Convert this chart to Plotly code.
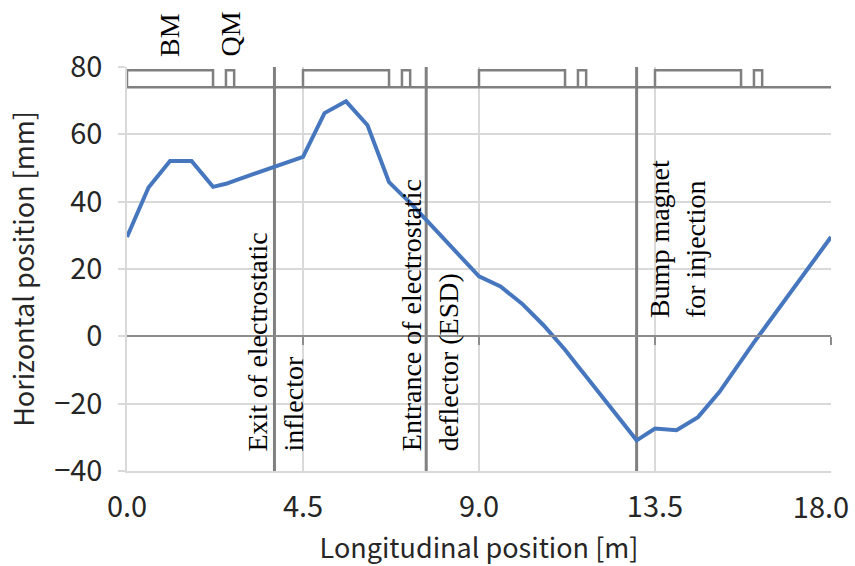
import plotly.graph_objects as go

# Horizontal beam position along one turn (4 identical sectors of 4.5 m)
s_m = [0.0, 0.55, 1.1, 1.65, 2.2, 2.53, 2.74, 3.77, 4.5,
       5.05, 5.6, 6.15, 6.7, 7.03, 7.24, 7.65, 9.0,
       9.55, 10.1, 10.65, 11.2, 11.53, 11.74, 13.03, 13.5,
       14.05, 14.6, 15.15, 15.7, 16.03, 16.24, 18.0]
x_mm = [29.5, 44.2, 52.1, 52.1, 44.4, 45.3, 46.2, 50.4, 53.3,
        66.3, 69.8, 62.7, 45.8, 42.0, 39.7, 34.6, 17.8,
        14.8, 9.7, 3.3, -4.0, -8.9, -11.9, -30.9, -27.4,
        -27.9, -24.0, -16.5, -7.1, -1.8, 1.5, 29.5]

# Lattice elements: bending magnets (BM) and quadrupoles (QM)
bm_start = [0.0, 4.5, 9.0, 13.5]
bm_length = 2.2
qm_start = [2.53, 7.03, 11.53, 16.03]
qm_length = 0.21
lattice_base = 74
lattice_top = 79

# Injection / extraction devices
device_pos = [3.77, 7.65, 13.03]
device_labels = ["Exit of electrostatic<br>inflector",
                 "Entrance of electrostatic<br>deflector (ESD)",
                 "Bump magnet<br>for injection"]

x_ticks = [0.0, 4.5, 9.0, 13.5, 18.0]
x_ticktext = ["0.0", "4.5", "9.0", "13.5", "18.0"]
y_ticks = [-40, -20, 0, 20, 40, 60, 80]

GRID = "#d9d9d9"
DARK = "#808080"
SANS = "Noto Sans CJK JP"
SERIF = "Liberation Serif"
TEXT = "#262626"
TICKFONT = dict(family=SANS, size=29, color=TEXT)

fig = go.Figure()

# lattice outline: baseline plus one closed box per magnet
lx, ly = [0.0, 18.0, None], [lattice_base, lattice_base, None]
for starts, length in ((bm_start, bm_length), (qm_start, qm_length)):
    for s0 in starts:
        s1 = s0 + length
        lx += [s0, s0, s1, s1, None]
        ly += [lattice_base, lattice_top, lattice_top, lattice_base, None]
fig.add_trace(go.Scatter(x=lx, y=ly, mode="lines",
                         line=dict(color=DARK, width=2.5),
                         hoverinfo="skip", showlegend=False, cliponaxis=False))

# device positions
for p in device_pos:
    fig.add_trace(go.Scatter(x=[p, p], y=[-40, 80], mode="lines",
                             line=dict(color=DARK, width=3),
                             hoverinfo="skip", showlegend=False))

# beam orbit
fig.add_trace(go.Scatter(x=s_m, y=x_mm, mode="lines",
                         line=dict(color="#4677BE", width=4),
                         showlegend=False))

# x axis line crossing at y = 0 (ticks only, labels stay at the bottom)
fig.add_trace(go.Scatter(x=[0, 18], y=[0, 0], xaxis="x2", mode="lines",
                         line=dict(color="rgba(0,0,0,0)"),
                         hoverinfo="skip", showlegend=False))
# helper axis carrying the last tick label, nudged inside the page
fig.add_trace(go.Scatter(x=[0, 18], y=[0, 0], xaxis="x3", mode="lines",
                         line=dict(color="rgba(0,0,0,0)"),
                         hoverinfo="skip", showlegend=False))

annotations = []
ann_x = [3.80, 7.74, 14.06]
ann_y = [-34.8, -34.8, 4.8]
for xa, ya, txt in zip(ann_x, ann_y, device_labels):
    annotations.append(dict(x=xa, y=ya, xref="x", yref="y", text=txt,
                            textangle=-90, align="left", showarrow=False,
                            xanchor="center", yanchor="bottom",
                            font=dict(family=SERIF, size=28, color="black")))
for name, s0, length in (("BM", bm_start[0], bm_length), ("QM", qm_start[0], qm_length)):
    annotations.append(dict(x=s0 + length / 2, y=1.02, xref="x", yref="paper",
                            text=name, textangle=-90, showarrow=False,
                            xanchor="center", yanchor="bottom",
                            font=dict(family=SERIF, size=28, color="black")))

fig.update_layout(
    template="none",
    width=855, height=566,
    margin=dict(l=127, r=24, t=67, b=95, autoexpand=False),
    paper_bgcolor="white", plot_bgcolor="white",
    font=dict(family=SANS, size=29, color=TEXT),
    annotations=annotations,
    xaxis=dict(range=[0, 18], tickvals=x_ticks[:-1], ticktext=x_ticktext[:-1],
               automargin=False,
               showgrid=True, gridcolor=GRID, gridwidth=1.5,
               showline=True, linecolor=GRID, linewidth=1.5, mirror=False,
               zeroline=False, ticks="", ticklabelstandoff=9,
               tickfont=TICKFONT,
               title=dict(text="Longitudinal position [m]", standoff=18,
                          font=dict(family=SANS, size=27, color=TEXT))),
    xaxis2=dict(range=[0, 18], overlaying="x", matches="x", anchor="free",
                position=1 / 3, side="bottom", tickvals=x_ticks[1:],
                automargin=False,
                showticklabels=False, showgrid=False, zeroline=False,
                showline=True, linecolor="#8c8c8c", linewidth=1.5,
                ticks="outside", ticklen=8, tickwidth=1.5, tickcolor="#8c8c8c"),
    xaxis3=dict(range=[0, 18], overlaying="x", matches="x", anchor="y",
                side="bottom", tickvals=x_ticks[-1:], ticktext=x_ticktext[-1:],
                automargin=False, ticklabelshift=-10, ticklabelstandoff=17,
                ticklabeloverflow="allow", tickfont=TICKFONT,
                showgrid=False, zeroline=False, showline=False, ticks=""),
    yaxis=dict(range=[-40, 80], tickvals=y_ticks, automargin=False,
               showgrid=True, gridcolor=GRID, gridwidth=1.5,
               showline=True, linecolor=GRID, linewidth=1.5,
               zeroline=False, ticks="outside", ticklen=7, tickwidth=1.5,
               tickcolor=GRID, ticklabelstandoff=10,
               tickfont=TICKFONT,
               title=dict(text="Horizontal position [mm]", standoff=12,
                          font=dict(family=SANS, size=27, color=TEXT))),
)

fig.write_html("out.html")
